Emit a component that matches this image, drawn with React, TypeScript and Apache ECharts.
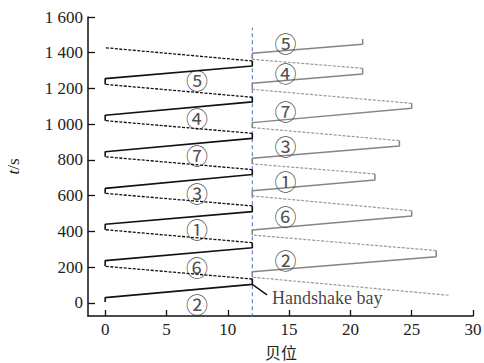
import React, { useEffect, useRef } from 'react';
import * as echarts from 'echarts';

const xTickValues = [0, 5, 10, 15, 20, 25, 30];
const yTickValues = [0, 200, 400, 600, 800, 1000, 1200, 1400, 1600];
const yTickLabels = ['0', '200', '400', '600', '800', '1 000', '1 200', '1 400', '1 600'];
const handshakeBay = 12;
const bayLineTop = 1540;

// left crane trajectory (bay, time)
const leftCranePath: [number, number][] = [
  [0, 5], [0, 30], [12, 104], [12, 134], [0, 205], [0, 237], [12, 309], [12, 337],
  [0, 410], [0, 440], [12, 511], [12, 543], [0, 613], [0, 641], [12, 719], [12, 746],
  [0, 818], [0, 846], [12, 921], [12, 949], [0, 1020], [0, 1050], [12, 1125], [12, 1151],
  [0, 1223], [0, 1255], [12, 1326], [12, 1354], [0, 1428],
];
// right crane trajectory (bay, time)
const rightCranePath: [number, number][] = [
  [28, 43], [12, 144], [12, 175], [27, 259], [27, 293], [12, 380], [12, 408], [25, 487],
  [25, 516], [12, 599], [12, 628], [22, 688], [22, 722], [12, 778], [12, 809], [24, 878],
  [24, 908], [12, 981], [12, 1009], [25, 1089], [25, 1117], [12, 1195], [12, 1229],
  [21, 1281], [21, 1313], [12, 1363], [12, 1397], [21, 1447], [21, 1477],
];

const leftTaskLabels = ['②', '⑥', '①', '③', '⑦', '④', '⑤'];
const leftTaskTimes = [0, 209, 420, 623, 833, 1040, 1253];
const leftLabelBay = 7.5;
const rightTaskLabels = ['②', '⑥', '①', '③', '⑦', '④', '⑤'];
const rightTaskTimes = [244, 492, 688, 884, 1080, 1290, 1462];
const rightLabelBay = 14.7;

const handshakePointer: [number, number][] = [[12, 104], [13.2, 45]];
const handshakeTextPos: [number, number] = [13.6, 28];
const handshakeText = 'Handshake bay';

type Pt = [number, number];

function splitPath(path: Pt[]) {
  // solid: moving to larger bay or vertical; dashed: moving back
  const groups: { dashed: boolean; pts: Pt[] }[] = [];
  for (let i = 0; i < path.length - 1; i++) {
    const a = path[i];
    const b = path[i + 1];
    const dashed = b[0] < a[0];
    const last = groups[groups.length - 1];
    if (last && last.dashed === dashed) {
      last.pts.push(b);
    } else {
      groups.push({ dashed, pts: [a, b] });
    }
  }
  return groups;
}

const serif = 'Liberation Serif';
const cjk = 'Noto Sans CJK SC';

export default function App() {
  const ref = useRef<HTMLDivElement>(null);
  useEffect(() => {
    if (!ref.current) return;
    const chart = echarts.init(ref.current, undefined, { renderer: 'svg' });
    const series: any[] = [];

    series.push({
      type: 'line',
      data: [[handshakeBay, -80], [handshakeBay, bayLineTop]],
      symbol: 'none',
      silent: true,
      z: 1,
      lineStyle: { color: '#4a6cc4', width: 1, type: [4, 3] },
    });

    splitPath(leftCranePath).forEach((g) => {
      series.push({
        type: 'line',
        data: g.pts,
        symbol: 'none',
        silent: true,
        z: 3,
        lineStyle: g.dashed
          ? { color: '#111', width: 1.3, type: [3, 1.5] }
          : { color: '#111', width: 1.6 },
      });
    });
    splitPath(rightCranePath).forEach((g) => {
      series.push({
        type: 'line',
        data: g.pts,
        symbol: 'none',
        silent: true,
        z: 2,
        lineStyle: g.dashed
          ? { color: '#9a9a9a', width: 1.2, type: [3, 1.5] }
          : { color: '#858585', width: 1.5 },
      });
    });

    series.push({
      type: 'line',
      data: handshakePointer,
      symbol: 'none',
      silent: true,
      z: 3,
      lineStyle: { color: '#111', width: 1.4 },
    });

    const labelData = [
      ...leftTaskLabels.map((n, i) => ({ name: n, value: [leftLabelBay, leftTaskTimes[i]] })),
      ...rightTaskLabels.map((n, i) => ({ name: n, value: [rightLabelBay, rightTaskTimes[i]] })),
    ];
    series.push({
      type: 'scatter',
      data: labelData,
      symbolSize: 0,
      silent: true,
      z: 5,
      label: {
        show: true,
        position: 'inside',
        formatter: (p: any) => p.name,
        color: '#222',
        fontSize: 22,
        fontFamily: cjk,
      },
    });
    series.push({
      type: 'scatter',
      data: [{ name: handshakeText, value: handshakeTextPos }],
      symbolSize: 0,
      silent: true,
      z: 5,
      label: {
        show: true,
        position: 'inside',
        align: 'left',
        verticalAlign: 'middle',
        formatter: (p: any) => p.name,
        color: '#111',
        fontSize: 18,
        fontFamily: serif,
      },
    });

    chart.setOption({
      animation: false,
      backgroundColor: '#ffffff',
      grid: { left: 88, right: 11, top: 17, bottom: 47, outerBoundsMode: 'none', containLabel: false },
      xAxis: {
        type: 'value',
        min: -1.4,
        max: 30,
        axisLine: { show: true, onZero: false, lineStyle: { color: '#111', width: 1.5 } },
        axisTick: {
          show: true,
          inside: true,
          length: 6,
          customValues: xTickValues,
          lineStyle: { color: '#111', width: 1.3 },
        },
        axisLabel: {
          color: '#222',
          fontSize: 17,
          fontFamily: serif,
          margin: 5,
          customValues: xTickValues,
          formatter: (v: number) => String(v),
        },
        splitLine: { show: false },
      },
      yAxis: {
        type: 'value',
        min: -73,
        max: 1600,
        name: '{i|t}/s',
        nameLocation: 'middle',
        nameGap: 66,
        nameTextStyle: {
          color: '#222',
          fontSize: 17,
          fontFamily: serif,
          rich: { i: { fontStyle: 'italic', fontSize: 17, fontFamily: serif, color: '#222' } },
        },
        axisLine: { show: true, onZero: false, lineStyle: { color: '#111', width: 1.5 } },
        axisTick: {
          show: true,
          inside: true,
          length: 7,
          customValues: yTickValues,
          lineStyle: { color: '#111', width: 1.3 },
        },
        axisLabel: {
          color: '#222',
          fontSize: 17,
          fontFamily: serif,
          margin: 5,
          customValues: yTickValues,
          formatter: (v: number) => {
            const i = yTickValues.indexOf(v);
            return i >= 0 ? yTickLabels[i] : '';
          },
        },
        splitLine: { show: false },
      },
      graphic: [
        {
          type: 'text',
          left: 265,
          top: 344,
          style: {
            text: '贝位',
            fill: '#222',
            fontSize: 16,
            fontFamily: cjk,
          },
        },
      ],
      series,
    });
    return () => chart.dispose();
  }, []);
  return <div ref={ref} style={{ width: 484, height: 363, position: 'absolute', left: 0, top: 0 }} />;
}
